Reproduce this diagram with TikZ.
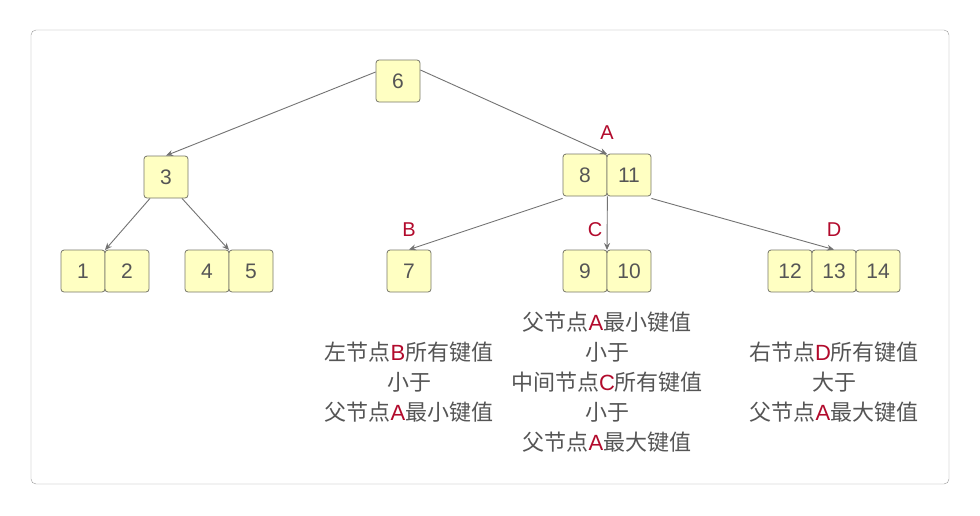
\documentclass[tikz,border=0pt]{standalone}
\usepackage{fontspec}
\usetikzlibrary{arrows.meta}
\setmainfont{Liberation Sans}
\newfontfamily\cjk{Noto Sans CJK SC}
\definecolor{txt}{HTML}{555555}
\definecolor{redc}{HTML}{B20A2C}
\definecolor{boxf}{HTML}{FFFFC2}
\definecolor{boxd}{HTML}{77776A}
\begin{document}
\begin{tikzpicture}[x=1pt,y=-1pt,
  key/.style={draw=boxd,line width=0.8pt,fill=boxf,rounded corners=3pt,minimum width=44pt,minimum height=42pt,inner sep=0pt,text=txt,font=\fontsize{21}{21}\selectfont},
  lab/.style={text=redc,font=\fontsize{20}{20}\selectfont},
  desc/.style={text=txt,align=center,font=\cjk\fontsize{22}{30}\selectfont},
  arr/.style={draw=black!55,line width=0.9pt,-{Stealth[length=7pt,width=6pt]}}]
\useasboundingbox (0,0) rectangle (980,515);
\draw[black!40,rounded corners=5pt,fill=white] (31,30) rectangle (949,484);
\node[key] (n6) at (398,81) {6};
\node[key] (n3) at (166,177) {3};
\node[key] (n8) at (585,175) {8};
\node[key] (n11) at (629,175) {11};
\node[key] (n1) at (83,271) {1};
\node[key] (n2) at (127,271) {2};
\node[key] (n4) at (207,271) {4};
\node[key] (n5) at (251,271) {5};
\node[key] (n7) at (409,271) {7};
\node[key] (n9) at (585,271) {9};
\node[key] (n10) at (629,271) {10};
\node[key] (n12) at (790,271) {12};
\node[key] (n13) at (834,271) {13};
\node[key] (n14) at (878,271) {14};
\coordinate (a) at (607,154);
\coordinate (c12) at (105,250);
\coordinate (c45) at (229,250);
\coordinate (cc) at (607,250);
\draw[arr] ([yshift=9pt]n6.west) -- (n3.north);
\draw[arr] ([yshift=11pt]n6.east) -- (a);
\draw[arr] ([xshift=-16pt]n3.south) -- (c12);
\draw[arr] ([xshift=16pt]n3.south) -- (c45);
\draw[arr] ([yshift=-2pt]n8.south west) -- (n7.north);
\draw[arr] (n8.south east) -- (cc);
\draw[arr] ([yshift=-2pt]n11.south east) -- (n13.north);
\node[lab] (la) at (607,133) {A};
\node[lab] (lb) at (409,230) {B};
\node[lab] (lc) at (595,230) {C};
\node[lab] (ld) at (834,230) {D};
\node[desc] (d1) at (409,382) {左节点{\color{redc}\fontspec{Liberation Sans}B}所有键值\\小于\\父节点{\color{redc}\fontspec{Liberation Sans}A}最小键值};
\node[desc] (d2) at (607,382) {父节点{\color{redc}\fontspec{Liberation Sans}A}最小键值\\小于\\中间节点{\color{redc}\fontspec{Liberation Sans}C}所有键值\\小于\\父节点{\color{redc}\fontspec{Liberation Sans}A}最大键值};
\node[desc] (d3) at (834,382) {右节点{\color{redc}\fontspec{Liberation Sans}D}所有键值\\大于\\父节点{\color{redc}\fontspec{Liberation Sans}A}最大键值};
\end{tikzpicture}
\end{document}
